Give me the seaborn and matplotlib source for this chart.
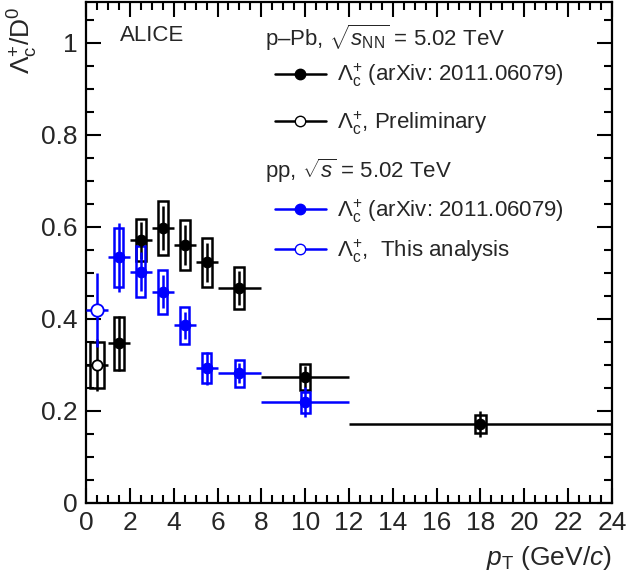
import numpy as np
import pandas as pd
import matplotlib
matplotlib.use("Agg")
import matplotlib.pyplot as plt
from matplotlib.lines import Line2D
from matplotlib.ticker import MultipleLocator
import seaborn as sns

# ---------------- data ----------------
# p-Pb, arXiv: 2011.06079 (black filled)
ppb_x = [1.5, 2.5, 3.5, 4.5, 5.5, 7.0, 10.0, 18.0]
ppb_xerr = [0.5, 0.5, 0.5, 0.5, 0.5, 1.0, 2.0, 6.0]
ppb_y = [0.347, 0.571, 0.598, 0.561, 0.523, 0.467, 0.274, 0.172]
ppb_stat = [0.060, 0.040, 0.048, 0.043, 0.043, 0.037, 0.024, 0.028]
ppb_sys = [0.058, 0.046, 0.059, 0.054, 0.054, 0.046, 0.029, 0.019]

# p-Pb, Preliminary (black open)
pre_x = [0.5]
pre_xerr = [0.5]
pre_y = [0.300]
pre_stat = [0.057]
pre_sys = [0.049]

# pp, arXiv: 2011.06079 (blue filled)
pp_x = [1.5, 2.5, 3.5, 4.5, 5.5, 7.0, 10.0]
pp_xerr = [0.5, 0.5, 0.5, 0.5, 0.5, 1.0, 2.0]
pp_y = [0.534, 0.503, 0.459, 0.386, 0.293, 0.282, 0.219]
pp_stat = [0.075, 0.042, 0.036, 0.030, 0.036, 0.022, 0.033]
pp_sys = [0.064, 0.056, 0.048, 0.041, 0.032, 0.029, 0.023]

# pp, This analysis (blue open)
new_x = [0.5]
new_xerr = [0.5]
new_y = [0.419]
new_stat = [0.081]

x_ticks = [0, 2, 4, 6, 8, 10, 12, 14, 16, 18, 20, 22, 24]
y_ticks = [0, 0.2, 0.4, 0.6, 0.8, 1.0]
y_ticklabels = ["0", "0.2", "0.4", "0.6", "0.8", "1"]

BLUE = "#0000FF"
BLACK = "#000000"

# ---------------- style ----------------
sns.set_theme(style="ticks")
plt.rcParams["font.family"] = ["Liberation Sans", "DejaVu Sans"]
plt.rcParams["mathtext.fontset"] = "custom"
plt.rcParams["mathtext.rm"] = "Liberation Sans"
plt.rcParams["mathtext.it"] = "Liberation Sans:italic"
plt.rcParams["mathtext.bf"] = "Liberation Sans:bold"
plt.rcParams["mathtext.sf"] = "Liberation Sans"

W, H = 627, 583
fig = plt.figure(figsize=(W / 100, H / 100), dpi=100)
ax = fig.add_axes([86 / W, 80 / H, 526 / W, 501.5 / H])

LW = 1.8


def boxes(x, y, sys, color, width):
    y = np.asarray(y)
    sys = np.asarray(sys)
    ax.bar(x, 2 * sys, bottom=y - sys, width=width, fill=False,
           edgecolor=color, linewidth=LW, zorder=2)


def errs(x, y, xerr, yerr, color):
    ax.errorbar(x, y, xerr=xerr, yerr=yerr, fmt="none", ecolor=color,
                elinewidth=LW, capsize=0, zorder=3)


# p-Pb
boxes(pre_x, pre_y, pre_sys, BLACK, 0.6)
boxes(ppb_x, ppb_y, ppb_sys, BLACK, 0.46)
errs(pre_x, pre_y, pre_xerr, pre_stat, BLACK)
errs(ppb_x, ppb_y, ppb_xerr, ppb_stat, BLACK)
sns.scatterplot(x=ppb_x, y=ppb_y, ax=ax, color=BLACK, s=55, edgecolor=BLACK,
                linewidth=1, zorder=4, legend=False)
sns.scatterplot(x=pre_x, y=pre_y, ax=ax, color="white", s=55, edgecolor=BLACK,
                linewidth=1.3, zorder=4, legend=False)

# pp
boxes(pp_x, pp_y, pp_sys, BLUE, 0.42)
errs(pp_x, pp_y, pp_xerr, pp_stat, BLUE)
errs(new_x, new_y, new_xerr, new_stat, BLUE)
sns.scatterplot(x=pp_x, y=pp_y, ax=ax, color=BLUE, s=55, edgecolor=BLUE,
                linewidth=1, zorder=5, legend=False)
sns.scatterplot(x=new_x, y=new_y, ax=ax, color="white", s=80, edgecolor=BLUE,
                linewidth=1.3, zorder=5, legend=False)

# ---------------- axes ----------------
ax.set_xlim(0, 24)
ax.set_ylim(0, 1.09)
ax.set_xticks(x_ticks)
ax.set_xticklabels([str(t) for t in x_ticks])
ax.set_yticks(y_ticks)
ax.set_yticklabels(y_ticklabels)
ax.xaxis.set_minor_locator(MultipleLocator(0.5))
ax.yaxis.set_minor_locator(MultipleLocator(0.05))
for s in ax.spines.values():
    s.set_linewidth(1.6)
    s.set_color("black")
ax.tick_params(which="both", direction="in", top=True, right=True,
               width=1.5, color="black")
ax.tick_params(which="major", length=11, labelsize=19, pad=6)
ax.tick_params(which="minor", length=5.5)

ax.set_xlabel(r"$p_{\rm T}$ (GeV/$c$)", fontsize=19, loc="right", labelpad=6)
ax.set_ylabel(r"$\Lambda_{\rm c}^{+}$/D$^{0}$", fontsize=19)
ax.yaxis.set_label_coords(-0.088, 0.99)
ax.yaxis.label.set_horizontalalignment("right")

# ---------------- annotations / legends ----------------
FS = 16
ax.text(0.0646, 0.932, "ALICE", transform=ax.transAxes, fontsize=FS,
        va="center", ha="left")
ax.text(0.340, 0.928, r"p–Pb, $\sqrt{s_{\rm NN}}$ = 5.02 TeV",
        transform=ax.transAxes, fontsize=FS, va="center", ha="left")
ax.text(0.340, 0.662, r"pp, $\sqrt{s}$ = 5.02 TeV",
        transform=ax.transAxes, fontsize=FS, va="center", ha="left")

h1 = [Line2D([], [], color=BLACK, lw=LW, marker="o", ms=7.5,
             mfc=BLACK, mec=BLACK),
      Line2D([], [], color=BLACK, lw=LW, marker="o", ms=7.5,
             mfc="white", mec=BLACK)]
l1 = [r"$\Lambda_{\rm c}^{+}$ (arXiv: 2011.06079)",
      r"$\Lambda_{\rm c}^{+}$, Preliminary"]
leg1 = ax.legend(h1, l1, loc="center left", bbox_to_anchor=(0.359, 0.805),
                 frameon=False, fontsize=FS, handlelength=2.3,
                 handletextpad=0.5, borderpad=0, borderaxespad=0,
                 labelspacing=0.9)
ax.add_artist(leg1)

h2 = [Line2D([], [], color=BLUE, lw=LW, marker="o", ms=7.5,
             mfc=BLUE, mec=BLUE),
      Line2D([], [], color=BLUE, lw=LW, marker="o", ms=7.5,
             mfc="white", mec=BLUE)]
l2 = [r"$\Lambda_{\rm c}^{+}$ (arXiv: 2011.06079)",
      r"$\Lambda_{\rm c}^{+}$,  This analysis"]
leg2 = ax.legend(h2, l2, loc="center left", bbox_to_anchor=(0.359, 0.542),
                 frameon=False, fontsize=FS, handlelength=2.3,
                 handletextpad=0.5, borderpad=0, borderaxespad=0,
                 labelspacing=0.55)

fig.savefig("out.png", dpi=100)
